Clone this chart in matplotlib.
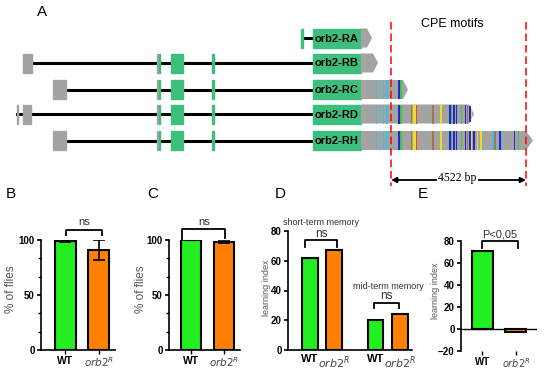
import matplotlib
matplotlib.use('Agg')
import matplotlib.pyplot as plt
from matplotlib.patches import Polygon, Rectangle
from matplotlib.ticker import AutoMinorLocator

plt.rcParams['font.family'] = ['Liberation Sans', 'DejaVu Sans']

# ---- panel A data (positions in picture pixels) ----
names = ['orb2-RA', 'orb2-RB', 'orb2-RC', 'orb2-RD', 'orb2-RH']
row_y = [38, 63, 89.5, 114, 140.5]
first_exon = [None, (23, 32), (53, 66), (23, 31), (53, 66)]
line_start = [302, 32, 66, 17, 66]
utr_end = [367, 373, 403, 469, 526]
utr_tip = [372, 378, 408, 474, 533]
cds_start, cds_end = 313, 361
motif_x = [376.7, 383.7, 387, 399, 401, 411.7, 413.5, 415, 416.7, 433, 441,
           450, 451.7, 454, 456.7, 461.7, 465.7, 467.7, 470, 471.7, 474,
           477.7, 481, 493, 495, 500, 501.7, 514.3, 518.3]
motif_c = ['c', 'c', 'c', 'b', 'g', 'n', 'y', 'y', 'r', 'n', 'y',
           'b', 'g', 'b', 'b', 'g', 'b', 'n', 'b', 'y', 'b',
           'y', 'y', 'c', 'n', 'b', 'c', 'b', 'g']
cpe_left, cpe_right = 391, 526

# ---- bar chart data ----
b_vals = [99, 91]
b_err = [1, 9]
c_vals = [100, 98.5]
c_err = [0, 1]
d_vals = [62, 67, 20, 24]
e_vals = [71, -2.5]

green = '#22ee22'
orange = '#ff8000'
exon_green = '#3dbf7c'
gray = '#a3a3a3'
cmap = {'c': '#3cc0e0', 'b': '#2424d8', 'g': '#3cc83c', 'y': '#e8e020',
        'n': '#a07850', 'r': '#d8502c'}

fig = plt.figure(figsize=(5.5, 3.73), dpi=100)

# ---------- panel A ----------
axa = fig.add_axes([0, 0, 1, 1])
axa.set_xlim(0, 550)
axa.set_ylim(373, 0)
axa.axis('off')
h = 9.5
for i in range(5):
    y = row_y[i]
    axa.plot([line_start[i], cds_start], [y, y], color='black', lw=2.2, zorder=1)
    if i == 0:
        axa.add_patch(Rectangle((301, y - h), 2, 2 * h, color=exon_green, zorder=2))
    else:
        fx = first_exon[i]
        axa.add_patch(Rectangle((fx[0], y - h), fx[1] - fx[0], 2 * h, color=gray, zorder=2))
        if i == 3:
            axa.add_patch(Rectangle((16.5, y - h), 1.5, 2 * h, color=gray, zorder=2))
        axa.add_patch(Rectangle((156.5, y - h), 1.5, 2 * h, color=gray, zorder=2))
        axa.add_patch(Rectangle((158.5, y - h), 1.5, 2 * h, color=exon_green, zorder=2))
        axa.add_patch(Rectangle((171, y - h), 12, 2 * h, color=exon_green, zorder=2))
        axa.add_patch(Rectangle((212, y - h), 2, 2 * h, color=exon_green, zorder=2))
    axa.add_patch(Rectangle((cds_start, y - h), cds_end - cds_start, 2 * h,
                            color=exon_green, zorder=2))
    axa.add_patch(Polygon([(cds_end, y - h), (utr_end[i], y - h), (utr_tip[i], y),
                           (utr_end[i], y + h), (cds_end, y + h)], closed=True,
                          facecolor=gray, edgecolor='none', zorder=2))
    for mx, mc in zip(motif_x, motif_c):
        if mx >= utr_tip[i] - 0.5:
            continue
        hh = h
        if mx > utr_end[i]:
            # stripe inside the arrow tip gets shorter
            hh = h * (utr_tip[i] - mx) / (utr_tip[i] - utr_end[i])
        axa.add_patch(Rectangle((mx - 0.6, y - hh), 1.2, 2 * hh, facecolor=cmap[mc],
                                edgecolor='none', zorder=3))
    axa.text(cds_start + 2, y + 0.5, names[i], fontsize=8, fontweight='bold',
             va='center', ha='left', zorder=4)

for xx in (cpe_left, cpe_right):
    axa.plot([xx, xx], [22, 186], color='red', lw=1.1, ls=(0, (5, 2.5)), zorder=5)
axa.text((cpe_left + cpe_right) / 2 - 6, 24, 'CPE motifs', fontsize=9, ha='center', va='center')
axa.annotate('', xy=(cpe_left, 180), xytext=(cpe_right, 180),
             arrowprops=dict(arrowstyle='<|-|>', color='black', lw=1.3,
                             mutation_scale=8, shrinkA=0, shrinkB=0))
axa.text((cpe_left + cpe_right) / 2 - 1, 178, '4522 bp', fontsize=8.5,
         family='Liberation Serif', ha='center', va='center',
         bbox=dict(facecolor='white', edgecolor='none', pad=1))

for lab, x, y in [('A', 42, 12), ('B', 11, 194), ('C', 153, 194), ('D', 280, 194), ('E', 423, 194)]:
    axa.text(x, y, lab, fontsize=11, ha='center', va='center')


def px_axes(l, r, top, bot):
    return fig.add_axes([l / 550, (373 - bot) / 373, (r - l) / 550, (bot - top) / 373])


def style(ax, ylab, lab_x, lab_y=0.52):
    for s in ('top', 'right'):
        ax.spines[s].set_visible(False)
    for s in ('left', 'bottom'):
        ax.spines[s].set_linewidth(1.2)
    ax.tick_params(axis='y', labelsize=7, width=1.2, length=3, pad=1.5)
    ax.tick_params(axis='x', labelsize=7.5, width=1, length=3, pad=1)
    for t in ax.get_yticklabels():
        t.set_fontweight('bold')
    ax.set_ylabel(ylab, color='#555555', fontsize=8.5 if '%' in ylab else 6.5)
    ax.yaxis.set_label_coords(lab_x, lab_y)


def xlabels(ax, xs, n):
    ax.set_xticks(xs)
    labs = ax.set_xticklabels(['WT', r'$\mathit{orb2}^{R}$'] * n)
    for k, t in enumerate(labs):
        if k % 2 == 0:
            t.set_fontweight('bold')
        else:
            t.set_color('#444444')


def bracket(ax, x0, x1, ytop, yl, yr, txt, ty, fs=8):
    ax.plot([x0, x0, x1, x1], [yl, ytop, ytop, yr], color='black', lw=1.3, clip_on=False)
    ax.text((x0 + x1) / 2, ty, txt, ha='center', va='center', fontsize=fs, color='#333333')


bar_kw = dict(edgecolor='black', linewidth=1.5, zorder=2)

# ---------- panel B ----------
axb = px_axes(41, 115, 240, 350)
axb.bar([0, 1], b_vals, width=0.63, color=[green, orange], **bar_kw)
axb.errorbar([0, 1], b_vals, yerr=b_err, fmt='none', ecolor='black', elinewidth=1.2,
             capsize=4, capthick=1.2, zorder=3)
axb.set_xlim(-0.73, 1.48)
axb.set_ylim(0, 100)
axb.set_yticks([0, 50, 100])
axb.yaxis.set_minor_locator(AutoMinorLocator(3))
axb.tick_params(axis='y', which='minor', length=2, width=1)
style(axb, '% of flies', -0.32, 0.55)
xlabels(axb, [0, 1], 1)
bracket(axb, 0.01, 1.09, 109, 104.5, 104.5, 'ns', 116)

# ---------- panel C ----------
axc = px_axes(169, 240, 240, 350)
axc.bar([0, 1], c_vals, width=0.6, color=[green, orange], **bar_kw)
axc.errorbar([1], [c_vals[1]], yerr=[c_err[1]], fmt='none', ecolor='black', elinewidth=1.2,
             capsize=4, capthick=1.2, zorder=3)
axc.set_xlim(-0.67, 1.48)
axc.set_ylim(0, 100)
axc.set_yticks([0, 50, 100])
axc.yaxis.set_minor_locator(AutoMinorLocator(3))
axc.tick_params(axis='y', which='minor', length=2, width=1)
style(axc, '% of flies', -0.31, 0.55)
xlabels(axc, [0, 1], 1)
bracket(axc, -0.27, 1.03, 110, 100, 102, 'ns', 116)

# ---------- panel D ----------
axd = px_axes(288, 412, 231, 350)
dx = [0, 1, 2.69, 3.69]
axd.bar(dx, d_vals, width=0.65, color=[green, orange, green, orange], **bar_kw)
axd.set_xlim(-0.88, 4.18)
axd.set_ylim(0, 80)
axd.set_yticks([0, 20, 40, 60, 80])
style(axd, 'learning index', -0.14, 0.52)
xlabels(axd, dx, 2)
for t in axd.get_xticklabels():
    t.set_fontsize(8)
axd.tick_params(axis='x', length=0, pad=3)
bracket(axd, -0.18, 1.12, 74, 69, 69, 'ns', 78.3, fs=8.5)
axd.text(0.47, 85.5, 'short-term memory', ha='center', va='center', fontsize=6.5, color='#333333')
bracket(axd, 2.63, 3.65, 31.6, 28.2, 28.2, 'ns', 36.0, fs=8.5)
axd.text(3.2, 43, 'mid-term memory', ha='center', va='center', fontsize=6.5, color='#333333')

# ---------- panel E ----------
axe = px_axes(461, 537, 241, 351)
axe.bar([0, 1], e_vals, width=0.63, color=[green, orange], **bar_kw)
axe.set_xlim(-0.64, 1.63)
axe.set_ylim(-20, 80)
axe.set_yticks([-20, 0, 20, 40, 60, 80])
style(axe, 'learning index', -0.28, 0.55)
axe.spines['bottom'].set_visible(False)
axe.axhline(0, color='black', lw=1.0, zorder=1)
xlabels(axe, [0, 1], 1)
for t in axe.get_xticklabels():
    t.set_fontsize(7)
bracket(axe, 0.0, 1.06, 80, 73.6, 73.6, 'P<0,05', 85.5)

fig.savefig('out.png', dpi=100)
